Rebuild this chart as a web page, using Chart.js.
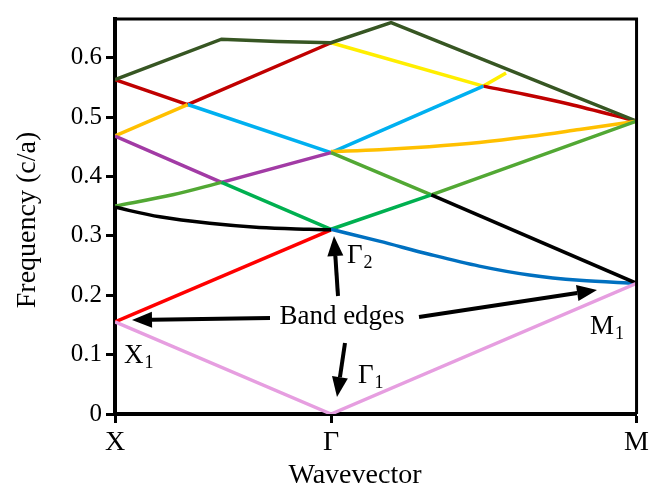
<!DOCTYPE html>
<html>
<head>
<meta charset="utf-8">
<script src="https://cdn.jsdelivr.net/npm/chart.js@4.4.1/dist/chart.umd.min.js"></script>
<style>
  html, body { margin: 0; padding: 0; background: #fff; }
  #wrap { width: 652px; height: 490px; }
</style>
</head>
<body>
<div id="wrap"><canvas id="bands"></canvas></div>
<script>
// --- k-path : X = 0, Γ = 1, M = 1 + √2 ---
const kTicks = [0, 1, 2.414];
const kLabels = ['X', 'Γ', 'M'];
const freqTicks = [0, 0.1, 0.2, 0.3, 0.4, 0.5, 0.6];

// --- bandes (k, fréquence) ---
const pinkBand = [[0, 0.155], [1, 0], [2.414, 0.22]];
const redBand = [[0, 0.155], [1, 0.31]];
const blackCurve = [[0, 0.348], [0.207, 0.332], [0.438, 0.321], [0.668, 0.314], [0.899, 0.311], [1, 0.31]];
const blackLine = [[1.464, 0.369], [2.414, 0.22]];
const blueCurve = [[1, 0.311], [1.223, 0.291], [1.454, 0.269], [1.686, 0.249], [1.918, 0.234], [2.15, 0.225], [2.414, 0.22]];
const lightGreenCurve = [[0, 0.35], [0.267, 0.369], [0.493, 0.39]];
const lightGreenLine = [[1, 0.44], [1.464, 0.369], [2.414, 0.493]];
const greenBand = [[0.493, 0.39], [1, 0.311], [1.464, 0.369]];
const purpleBand = [[0, 0.468], [0.493, 0.39], [1, 0.44]];
const orangeLine = [[0, 0.468], [0.336, 0.521]];
const orangeCurve = [[1, 0.442], [1.223, 0.445], [1.454, 0.45], [1.686, 0.457], [1.918, 0.467], [2.15, 0.479], [2.414, 0.493]];
const darkRedLine = [[0, 0.563], [0.336, 0.521], [1, 0.625]];
const darkRedCurve = [[1.705, 0.552], [1.9, 0.538], [2.1, 0.522], [2.414, 0.493]];
const cyanBand = [[0.336, 0.521], [1, 0.44], [1.705, 0.552]];
const yellowBand = [[1, 0.625], [1.705, 0.552], [1.81, 0.574]];
const darkGreenBand = [[0, 0.563], [0.493, 0.631], [0.75, 0.627], [1, 0.625], [1.278, 0.659], [2.414, 0.493]];

const serif = 'Liberation Serif';

// premier dataset = dessiné au-dessus
const bands = [
  { pts: pinkBand, color: '#e69ee0', curve: false },
  { pts: blackLine, color: '#000000', curve: false },
  { pts: blackCurve, color: '#000000', curve: true },
  { pts: blueCurve, color: '#0070c0', curve: true },
  { pts: redBand, color: '#ff0000', curve: false },
  { pts: greenBand, color: '#00b050', curve: false },
  { pts: lightGreenCurve, color: '#52a834', curve: true },
  { pts: lightGreenLine, color: '#52a834', curve: false },
  { pts: purpleBand, color: '#a23ba5', curve: false },
  { pts: orangeCurve, color: '#ffc000', curve: true },
  { pts: orangeLine, color: '#ffc000', curve: false },
  { pts: cyanBand, color: '#00b0f0', curve: false },
  { pts: darkGreenBand, color: '#375623', curve: false },
  { pts: darkRedCurve, color: '#c00000', curve: true },
  { pts: darkRedLine, color: '#c00000', curve: false },
  { pts: yellowBand, color: '#ffee00', curve: false }
];

const datasets = bands.map((b, i) => ({
  label: 'band-' + i,
  data: b.pts.map(p => ({ x: p[0], y: p[1] })),
  borderColor: b.color,
  borderWidth: 3.5,
  pointRadius: 0,
  fill: false,
  tension: 0,
  cubicInterpolationMode: b.curve ? 'monotone' : 'default'
}));

function arrow(ctx, x1, y1, x2, y2) {
  const a = Math.atan2(y2 - y1, x2 - x1);
  const hl = 20, hw = 8;
  const bx = x2 - hl * Math.cos(a), by = y2 - hl * Math.sin(a);
  ctx.beginPath();
  ctx.moveTo(x1, y1);
  ctx.lineTo(bx, by);
  ctx.lineWidth = 4;
  ctx.strokeStyle = '#000';
  ctx.stroke();
  ctx.beginPath();
  ctx.moveTo(x2, y2);
  ctx.lineTo(bx + hw * Math.sin(a), by - hw * Math.cos(a));
  ctx.lineTo(bx - hw * Math.sin(a), by + hw * Math.cos(a));
  ctx.closePath();
  ctx.fillStyle = '#000';
  ctx.fill();
}

function subLabel(ctx, main, sub, x, y) {
  ctx.font = '27px ' + serif;
  ctx.fillText(main, x, y);
  const w = ctx.measureText(main).width;
  ctx.font = '18px ' + serif;
  ctx.fillText(sub, x + w + 1, y + 5);
}

const annotations = {
  id: 'annotations',
  afterDraw(chart) {
    const ctx = chart.ctx;
    const a = chart.chartArea;
    ctx.save();
    // cadre haut / droite
    ctx.strokeStyle = '#000';
    ctx.lineWidth = 3;
    ctx.beginPath();
    ctx.moveTo(a.left, a.top);
    ctx.lineTo(a.right, a.top);
    ctx.lineTo(a.right, a.bottom);
    ctx.stroke();

    ctx.fillStyle = '#000';
    ctx.textBaseline = 'alphabetic';
    ctx.textAlign = 'center';
    ctx.font = '27px ' + serif;
    ctx.fillText('Band edges', 342, 324);

    arrow(ctx, 270, 318, 132, 320);
    arrow(ctx, 419, 317, 597, 290);
    arrow(ctx, 338, 296, 334, 236);
    arrow(ctx, 345, 343, 337, 397);

    ctx.textAlign = 'left';
    subLabel(ctx, 'Γ', '2', 347, 263);
    subLabel(ctx, 'Γ', '1', 358, 383);
    subLabel(ctx, 'X', '1', 124, 363);
    subLabel(ctx, 'M', '1', 590, 334);

    // titres des axes
    ctx.font = '28px ' + serif;
    ctx.textAlign = 'center';
    ctx.fillText('Wavevector', 355, 483);
    ctx.translate(35, 220);
    ctx.rotate(-Math.PI / 2);
    ctx.fillText('Frequency (c/a)', 0, 0);
    ctx.restore();
  }
};

new Chart(document.getElementById('bands').getContext('2d'), {
  type: 'line',
  data: { datasets: datasets },
  options: {
    responsive: true,
    maintainAspectRatio: false,
    animation: false,
    layout: { padding: { left: 0, right: 15, top: 7, bottom: 0 } },
    plugins: { legend: { display: false }, tooltip: { enabled: false } },
    scales: {
      x: {
        type: 'linear',
        min: 0,
        max: kTicks[2],
        afterBuildTicks: s => { s.ticks = kTicks.map(v => ({ value: v })); },
        afterFit: s => { s.height = 76; },
        ticks: {
          autoSkip: false,
          maxRotation: 0,
          padding: 3,
          color: '#000',
          font: { family: serif, size: 28 },
          callback: v => kLabels[kTicks.indexOf(v)]
        },
        grid: { drawOnChartArea: false, drawTicks: true, tickLength: 9, tickWidth: 3, tickColor: '#000' },
        border: { color: '#000', width: 4 }
      },
      y: {
        min: 0,
        max: 0.665,
        afterBuildTicks: s => { s.ticks = freqTicks.map(v => ({ value: v })); },
        afterFit: s => { s.width = 115; },
        ticks: {
          padding: 4,
          color: '#000',
          font: { family: serif, size: 25 },
          callback: v => (v === 0 ? '0' : v.toFixed(1))
        },
        grid: { drawOnChartArea: false, drawTicks: true, tickLength: 9, tickWidth: 3, tickColor: '#000' },
        border: { color: '#000', width: 4 }
      }
    }
  },
  plugins: [annotations]
});
</script>
</body>
</html>
